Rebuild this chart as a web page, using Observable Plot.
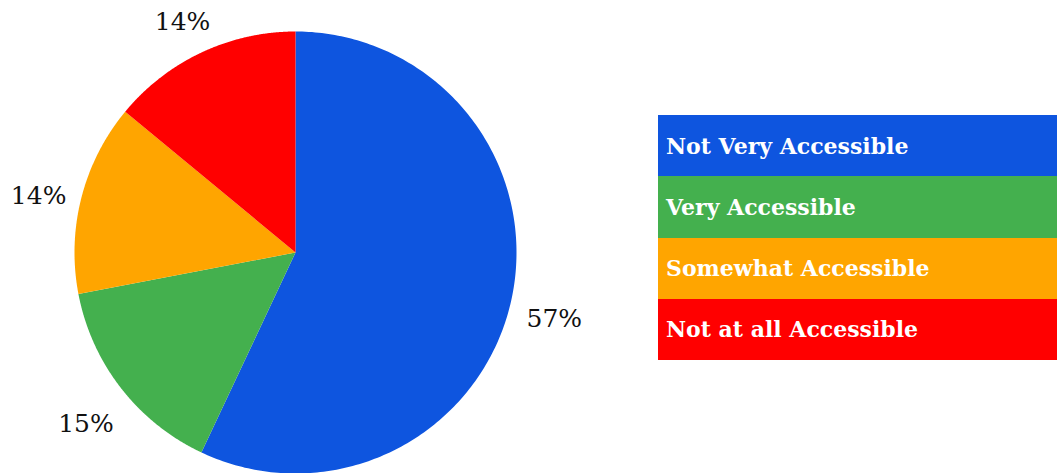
<!DOCTYPE html>
<html>
<head>
<meta charset="utf-8">
<script src="https://cdn.jsdelivr.net/npm/d3@7"></script>
<script src="https://cdn.jsdelivr.net/npm/@observablehq/plot@0.6"></script>
<style>
  html, body { margin: 0; padding: 0; background: #fff; }
  #wrap { position: relative; width: 1057px; height: 473px; overflow: hidden; }
  #chart { position: absolute; left: 0; top: 0; }
  #legend { position: absolute; left: 658px; top: 115px; width: 399px; }
  .row { height: 61.25px; display: flex; align-items: center; padding-left: 8px;
         color: #fff; font-family: "DejaVu Serif", serif; font-weight: bold; font-size: 22px; box-sizing: border-box; }
</style>
</head>
<body>
<div id="wrap"><div id="chart"></div><div id="legend"></div></div>
<script>
const categories = ["Not Very Accessible", "Very Accessible", "Somewhat Accessible", "Not at all Accessible"];
const values = [57, 15, 14, 14];
const labels = ["57%", "15%", "14%", "14%"];
const colors = ["#0e55df", "#44b04e", "#ffa500", "#ff0000"];

const pie = d3.pie().sort(null).value(d => d.value)(
  categories.map((c, i) => ({category: c, value: values[i], label: labels[i], color: colors[i]}))
);

// slice outlines in unit-circle coordinates (angle clockwise from 12 o'clock)
const slicePts = [];
pie.forEach(s => {
  slicePts.push({category: s.data.category, x: 0, y: 0});
  const n = 240;
  for (let k = 0; k <= n; k++) {
    const a = s.startAngle + (s.endAngle - s.startAngle) * k / n;
    slicePts.push({category: s.data.category, x: Math.sin(a), y: Math.cos(a)});
  }
  slicePts.push({category: s.data.category, x: 0, y: 0});
});
const labelPts = pie.map(s => {
  const a = (s.startAngle + s.endAngle) / 2;
  return {label: s.data.label, x: 1.2 * Math.sin(a), y: 1.2 * Math.cos(a)};
});

const cx = 295, cy = 252, r = 221;
const chart = Plot.plot({
  width: 640, height: 473,
  margin: 0,
  x: {domain: [-1, 1], range: [cx - r, cx + r], axis: null},
  y: {domain: [-1, 1], range: [cy + r, cy - r], axis: null},
  color: {type: "ordinal", domain: categories, range: colors},
  style: {background: "transparent", overflow: "visible"},
  marks: [
    Plot.line(slicePts, {x: "x", y: "y", z: "category", fill: "category", stroke: null, curve: "linear"}),
    Plot.text(labelPts, {x: "x", y: "y", text: "label", dy: 9, fontSize: 25, fontFamily: "DejaVu Serif", fill: "#111", textAnchor: "middle"})
  ]
});
document.getElementById("chart").appendChild(chart);

const legend = document.getElementById("legend");
categories.forEach((c, i) => {
  const div = document.createElement("div");
  div.className = "row";
  div.style.background = colors[i];
  div.textContent = c;
  legend.appendChild(div);
});
</script>
</body>
</html>
